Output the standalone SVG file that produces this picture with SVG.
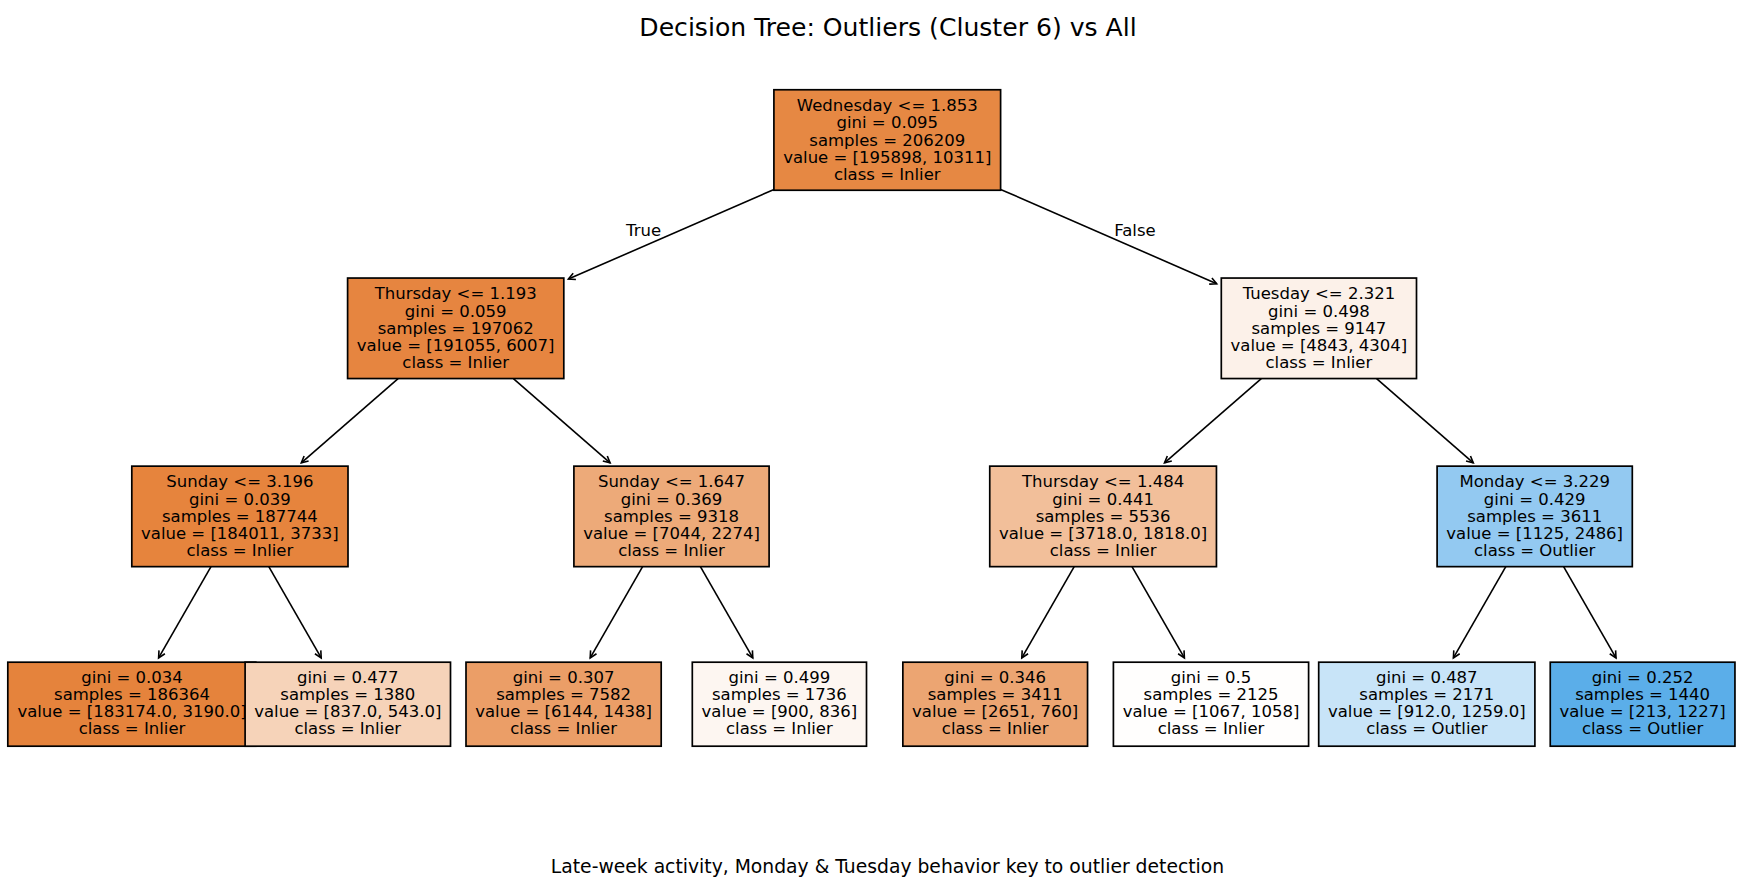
<svg xmlns="http://www.w3.org/2000/svg" width="1743" height="877" viewBox="0 0 1743 877">
<style>
.bg{fill:#ffffff}
.box{stroke:#000000;stroke-width:1.7}
.t{font-family:"DejaVu Sans",sans-serif;font-size:16.5px;fill:#000000;text-anchor:middle}
.title{font-family:"DejaVu Sans",sans-serif;font-size:25.1px;fill:#000000;text-anchor:middle}
.sub{font-family:"DejaVu Sans",sans-serif;font-size:18.75px;fill:#000000;text-anchor:middle}
.edge{stroke:#000000;stroke-width:1.6;fill:none;marker-end:url(#ah)}
</style>
<defs>
<marker id="ah" markerUnits="userSpaceOnUse" orient="auto" markerWidth="12" markerHeight="12" refX="0" refY="0" viewBox="-9 -6 12 12" overflow="visible">
<path d="M-6.7,-3.4 L0,0 L-6.7,3.4" fill="none" stroke="#000000" stroke-width="1.6"/>
</marker>
</defs>
<rect class="bg" x="0" y="0" width="1743" height="877"/>
<text class="title" x="888" y="35.5">Decision Tree: Outliers (Cluster 6) vs All</text>
<g id="connectors">
<line class="edge" x1="774" y1="189.4" x2="568.4" y2="279.1"/>
<line class="edge" x1="1000.6" y1="189.4" x2="1216.7" y2="283.7"/>
<line class="edge" x1="398.1" y1="378.6" x2="301.3" y2="462.9"/>
<line class="edge" x1="513.4" y1="378.6" x2="610.1" y2="462.9"/>
<line class="edge" x1="1261.3" y1="378.6" x2="1164.5" y2="462.9"/>
<line class="edge" x1="1376.6" y1="378.6" x2="1473.3" y2="462.9"/>
<line class="edge" x1="211" y1="566.7" x2="158.6" y2="657.9"/>
<line class="edge" x1="268.8" y1="566.7" x2="321.2" y2="657.9"/>
<line class="edge" x1="642.6" y1="566.7" x2="590.2" y2="657.9"/>
<line class="edge" x1="700.4" y1="566.7" x2="752.8" y2="657.9"/>
<line class="edge" x1="1074.2" y1="566.7" x2="1021.8" y2="657.9"/>
<line class="edge" x1="1132" y1="566.7" x2="1184.4" y2="657.9"/>
<line class="edge" x1="1505.8" y1="566.7" x2="1453.4" y2="657.9"/>
<line class="edge" x1="1563.6" y1="566.7" x2="1616" y2="657.9"/>
<text class="t" x="643.6" y="235.5">True</text>
<text class="t" x="1135" y="235.5">False</text>
</g>
<g id="n0">
<rect class="box" x="773.9" y="89.75" width="226.7" height="100.5" fill="#e68843"/>
<text class="t" x="887.3" y="111">Wednesday &lt;= 1.853</text>
<text class="t" x="887.3" y="128.25">gini = 0.095</text>
<text class="t" x="887.3" y="145.5">samples = 206209</text>
<text class="t" x="887.3" y="162.75">value = [195898, 10311]</text>
<text class="t" x="887.3" y="180">class = Inlier</text>
</g>
<g id="n1">
<rect class="box" x="347.6" y="278.05" width="216.2" height="100.5" fill="#e68540"/>
<text class="t" x="455.7" y="299.3">Thursday &lt;= 1.193</text>
<text class="t" x="455.7" y="316.55">gini = 0.059</text>
<text class="t" x="455.7" y="333.8">samples = 197062</text>
<text class="t" x="455.7" y="351.05">value = [191055, 6007]</text>
<text class="t" x="455.7" y="368.3">class = Inlier</text>
</g>
<g id="n8">
<rect class="box" x="1221.3" y="278.05" width="195.2" height="100.5" fill="#fcf1e9"/>
<text class="t" x="1318.9" y="299.3">Tuesday &lt;= 2.321</text>
<text class="t" x="1318.9" y="316.55">gini = 0.498</text>
<text class="t" x="1318.9" y="333.8">samples = 9147</text>
<text class="t" x="1318.9" y="351.05">value = [4843, 4304]</text>
<text class="t" x="1318.9" y="368.3">class = Inlier</text>
</g>
<g id="n2">
<rect class="box" x="131.8" y="466.15" width="216.2" height="100.5" fill="#e6843d"/>
<text class="t" x="239.9" y="487.4">Sunday &lt;= 3.196</text>
<text class="t" x="239.9" y="504.65">gini = 0.039</text>
<text class="t" x="239.9" y="521.9">samples = 187744</text>
<text class="t" x="239.9" y="539.15">value = [184011, 3733]</text>
<text class="t" x="239.9" y="556.4">class = Inlier</text>
</g>
<g id="n5">
<rect class="box" x="573.9" y="466.15" width="195.2" height="100.5" fill="#edaa79"/>
<text class="t" x="671.5" y="487.4">Sunday &lt;= 1.647</text>
<text class="t" x="671.5" y="504.65">gini = 0.369</text>
<text class="t" x="671.5" y="521.9">samples = 9318</text>
<text class="t" x="671.5" y="539.15">value = [7044, 2274]</text>
<text class="t" x="671.5" y="556.4">class = Inlier</text>
</g>
<g id="n9">
<rect class="box" x="989.75" y="466.15" width="226.7" height="100.5" fill="#f2bf9a"/>
<text class="t" x="1103.1" y="487.4">Thursday &lt;= 1.484</text>
<text class="t" x="1103.1" y="504.65">gini = 0.441</text>
<text class="t" x="1103.1" y="521.9">samples = 5536</text>
<text class="t" x="1103.1" y="539.15">value = [3718.0, 1818.0]</text>
<text class="t" x="1103.1" y="556.4">class = Inlier</text>
</g>
<g id="n12">
<rect class="box" x="1437.1" y="466.15" width="195.2" height="100.5" fill="#93c9f1"/>
<text class="t" x="1534.7" y="487.4">Monday &lt;= 3.229</text>
<text class="t" x="1534.7" y="504.65">gini = 0.429</text>
<text class="t" x="1534.7" y="521.9">samples = 3611</text>
<text class="t" x="1534.7" y="539.15">value = [1125, 2486]</text>
<text class="t" x="1534.7" y="556.4">class = Outlier</text>
</g>
<g id="n3">
<rect class="box" x="7.8" y="662.2" width="248" height="84" fill="#e5833c"/>
<text class="t" x="132" y="682.6">gini = 0.034</text>
<text class="t" x="132" y="699.85">samples = 186364</text>
<text class="t" x="132" y="717.1">value = [183174.0, 3190.0]</text>
<text class="t" x="132" y="734.35">class = Inlier</text>
</g>
<g id="n4">
<rect class="box" x="245.1" y="662.2" width="205.4" height="84" fill="#f6d3b9"/>
<text class="t" x="347.8" y="682.6">gini = 0.477</text>
<text class="t" x="347.8" y="699.85">samples = 1380</text>
<text class="t" x="347.8" y="717.1">value = [837.0, 543.0]</text>
<text class="t" x="347.8" y="734.35">class = Inlier</text>
</g>
<g id="n6">
<rect class="box" x="466" y="662.2" width="195.2" height="84" fill="#eb9e67"/>
<text class="t" x="563.6" y="682.6">gini = 0.307</text>
<text class="t" x="563.6" y="699.85">samples = 7582</text>
<text class="t" x="563.6" y="717.1">value = [6144, 1438]</text>
<text class="t" x="563.6" y="734.35">class = Inlier</text>
</g>
<g id="n7">
<rect class="box" x="692.3" y="662.2" width="174.2" height="84" fill="#fdf6f1"/>
<text class="t" x="779.4" y="682.6">gini = 0.499</text>
<text class="t" x="779.4" y="699.85">samples = 1736</text>
<text class="t" x="779.4" y="717.1">value = [900, 836]</text>
<text class="t" x="779.4" y="734.35">class = Inlier</text>
</g>
<g id="n10">
<rect class="box" x="902.85" y="662.2" width="184.7" height="84" fill="#eca572"/>
<text class="t" x="995.2" y="682.6">gini = 0.346</text>
<text class="t" x="995.2" y="699.85">samples = 3411</text>
<text class="t" x="995.2" y="717.1">value = [2651, 760]</text>
<text class="t" x="995.2" y="734.35">class = Inlier</text>
</g>
<g id="n11">
<rect class="box" x="1113.4" y="662.2" width="195.2" height="84" fill="#fffefd"/>
<text class="t" x="1211" y="682.6">gini = 0.5</text>
<text class="t" x="1211" y="699.85">samples = 2125</text>
<text class="t" x="1211" y="717.1">value = [1067, 1058]</text>
<text class="t" x="1211" y="734.35">class = Inlier</text>
</g>
<g id="n13">
<rect class="box" x="1318.7" y="662.2" width="216.2" height="84" fill="#c8e4f8"/>
<text class="t" x="1426.8" y="682.6">gini = 0.487</text>
<text class="t" x="1426.8" y="699.85">samples = 2171</text>
<text class="t" x="1426.8" y="717.1">value = [912.0, 1259.0]</text>
<text class="t" x="1426.8" y="734.35">class = Outlier</text>
</g>
<g id="n14">
<rect class="box" x="1550.25" y="662.2" width="184.7" height="84" fill="#5baee9"/>
<text class="t" x="1642.6" y="682.6">gini = 0.252</text>
<text class="t" x="1642.6" y="699.85">samples = 1440</text>
<text class="t" x="1642.6" y="717.1">value = [213, 1227]</text>
<text class="t" x="1642.6" y="734.35">class = Outlier</text>
</g>
<text class="sub" x="887.5" y="872.5">Late-week activity, Monday &amp; Tuesday behavior key to outlier detection</text>
</svg>
